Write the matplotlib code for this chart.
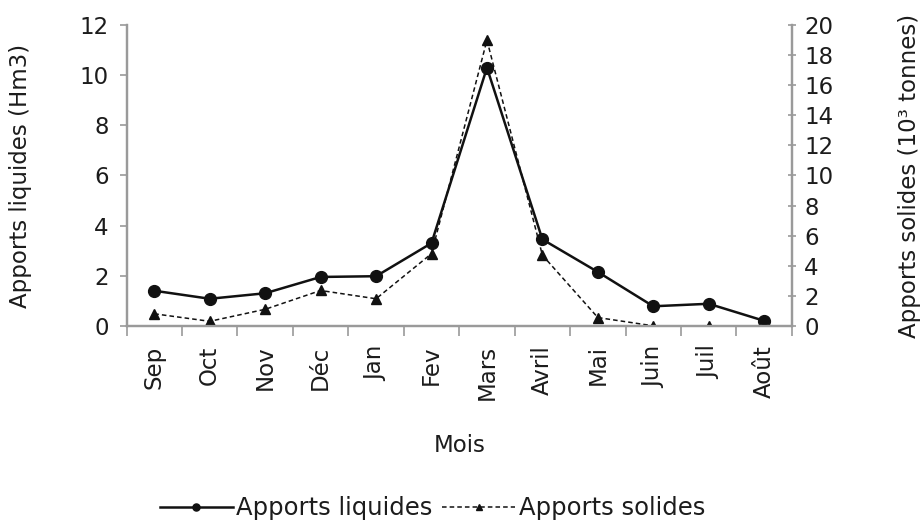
import numpy as np
import matplotlib
matplotlib.use("Agg")
from matplotlib import pyplot as plt

plt.rcParams['font.family'] = ['DejaVu Sans']

mois = ['Sep', 'Oct', 'Nov', 'Déc', 'Jan', 'Fev', 'Mars', 'Avril', 'Mai', 'Juin', 'Juil', 'Août']
apports_liquides = [1.4, 1.08, 1.3, 1.95, 1.98, 3.3, 10.3, 3.45, 2.15, 0.78, 0.88, 0.2]
apports_solides = [0.8, 0.3, 1.1, 2.35, 1.8, 4.8, 19.0, 4.7, 0.55, 0.0, 0.0, 0.0]

txt = '#1c1c1c'
spine = '#9a9a9a'
fs = 16.5

fig = plt.figure(figsize=(9.24, 5.23), dpi=100)
ax = fig.add_axes([0.137, 0.377, 0.72, 0.575])
ax2 = ax.twinx()

x = np.arange(len(mois))
l1, = ax.plot(x, apports_liquides, '-', color='#111111', lw=1.8,
              marker='o', ms=8.5, label='Apports liquides')
l2, = ax2.plot(x, apports_solides, color='#111111', lw=1.1, ls=(0, (3, 2)),
               marker='^', ms=6.5, label='Apports solides')

ax.set_xlim(-0.5, len(mois) - 0.5)
ax.set_ylim(0, 12)
ax2.set_ylim(0, 20)
ax.set_yticks(np.arange(0, 13, 2))
ax2.set_yticks(np.arange(0, 21, 2))

ax.set_xticks(x)
ax.set_xticklabels(mois, rotation=90, fontsize=fs, color=txt)
ax.set_xticks(np.arange(-0.5, len(mois), 1), minor=True)
ax.tick_params(axis='x', which='major', length=0, pad=14)
ax.tick_params(axis='x', which='minor', length=7, color=spine, width=1.2)

ax.tick_params(axis='y', labelsize=fs, labelcolor=txt, length=5, color=spine, width=1.2, pad=8)
ax2.tick_params(axis='y', labelsize=fs, labelcolor=txt, length=6, color=spine, width=1.2,
                direction='inout', pad=6)

for a in (ax, ax2):
    a.spines['top'].set_visible(False)
    for s in ('left', 'right', 'bottom'):
        a.spines[s].set_color(spine)
        a.spines[s].set_linewidth(1.6)

ax.set_ylabel('Apports liquides (Hm3)', fontsize=fs, color=txt, labelpad=34)
ax2.set_ylabel('Apports solides (10³ tonnes)', fontsize=fs, color=txt, labelpad=46,
               rotation=90)
ax.set_xlabel('Mois', fontsize=fs, color=txt, labelpad=24)

fig.legend(handles=[l1, l2], loc='center', bbox_to_anchor=(0.468, 0.028), ncol=2,
           frameon=False, fontsize=17.5, handlelength=3.0, columnspacing=0.4,
           handletextpad=0.15, labelcolor=txt, markerscale=0.6)

fig.savefig('out.png', dpi=100)
